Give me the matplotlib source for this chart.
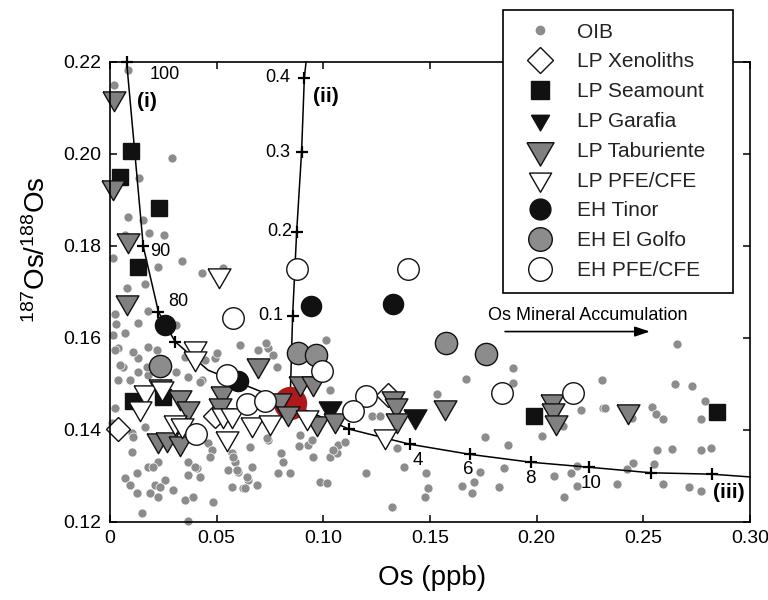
import matplotlib
matplotlib.use("Agg")
import matplotlib.pyplot as plt
from matplotlib.lines import Line2D

plt.rcParams['font.family'] = ['Liberation Sans', 'DejaVu Sans']
plt.rcParams['mathtext.fontset'] = 'custom'
plt.rcParams['mathtext.rm'] = 'Liberation Sans'
plt.rcParams['mathtext.it'] = 'Liberation Sans:italic'
plt.rcParams['mathtext.bf'] = 'Liberation Sans:bold'

# ---------------- data ----------------
oib_x = [0.0084, 0.0019, 0.0291, 0.0136, 0.0084, 0.0155, 0.0183, 0.0253, 0.0070, 0.0014,
         0.0225, 0.0338, 0.0431, 0.0530, 0.0164, 0.0080, 0.0178, 0.0023, 0.0028, 0.0131,
         0.0309, 0.0014, 0.0070, 0.0038, 0.0178, 0.0131, 0.0061, 0.0131, 0.0038, 0.0094,
         0.0178, 0.0352, 0.0366, 0.0431, 0.0492, 0.0741, 0.0694, 0.0731, 0.0609, 0.0764,
         0.1013, 0.1031, 0.0783, 0.0108, 0.0220, 0.0173, 0.0422, 0.0502, 0.0023, 0.0009,
         0.0103, 0.0164, 0.0108, 0.0103, 0.0225, 0.0178, 0.0127, 0.0070, 0.0094, 0.0127,
         0.0211, 0.0258, 0.0188, 0.0225, 0.0295, 0.0366, 0.0408, 0.0366, 0.0422, 0.0352,
         0.0389, 0.0483, 0.0150, 0.0366, 0.0459, 0.0478, 0.0572, 0.0586, 0.0553, 0.0600,
         0.0647, 0.0572, 0.0623, 0.0689, 0.0656, 0.0741, 0.0398, 0.0469, 0.0577, 0.0666,
         0.0736, 0.0811, 0.0891, 0.0928, 0.0952, 0.0984, 0.1031, 0.1064, 0.1069, 0.1102,
         0.0788, 0.0844, 0.0802, 0.0886, 0.0947, 0.1017, 0.1228, 0.1266, 0.1200, 0.1345,
         0.1378, 0.1481, 0.1491, 0.1477, 0.1322, 0.1669, 0.1533, 0.1889, 0.1889, 0.1758,
         0.1866, 0.2025, 0.2123, 0.2208, 0.2311, 0.2306, 0.1734, 0.1706, 0.1650, 0.1697,
         0.1823, 0.1847, 0.2081, 0.2161, 0.2189, 0.2189, 0.2128, 0.2658, 0.2648, 0.2728,
         0.2789, 0.2770, 0.2320, 0.2541, 0.2559, 0.2592, 0.2447, 0.2564, 0.2634, 0.2770,
         0.2817, 0.2452, 0.2423, 0.2550, 0.2377, 0.2592, 0.2714, 0.2770, 0.0309, 0.0023,
         0.0047, 0.0202, 0.0234, 0.0595, 0.0642, 0.0633, 0.1045, 0.0445]
oib_y = [0.2183, 0.2150, 0.1991, 0.1948, 0.1863, 0.1857, 0.1828, 0.1824, 0.1824, 0.1774,
         0.1754, 0.1767, 0.1741, 0.1752, 0.1717, 0.1709, 0.1659, 0.1652, 0.1630, 0.1633,
         0.1628, 0.1607, 0.1611, 0.1578, 0.1580, 0.1557, 0.1537, 0.1526, 0.1509, 0.1509,
         0.1520, 0.1559, 0.1515, 0.1509, 0.1557, 0.1578, 0.1574, 0.1589, 0.1585, 0.1563,
         0.1596, 0.1487, 0.1537, 0.1570, 0.1574, 0.1537, 0.1504, 0.1567, 0.1448, 0.1415,
         0.1393, 0.1407, 0.1385, 0.1352, 0.1330, 0.1320, 0.1307, 0.1296, 0.1280, 0.1263,
         0.1280, 0.1291, 0.1263, 0.1254, 0.1270, 0.1330, 0.1317, 0.1302, 0.1298, 0.1248,
         0.1254, 0.1243, 0.1220, 0.1202, 0.1372, 0.1357, 0.1350, 0.1330, 0.1313, 0.1309,
         0.1291, 0.1276, 0.1274, 0.1280, 0.1363, 0.1378, 0.1320, 0.1341, 0.1341, 0.1320,
         0.1383, 0.1330, 0.1389, 0.1367, 0.1341, 0.1287, 0.1341, 0.1350, 0.1367, 0.1374,
         0.1307, 0.1307, 0.1350, 0.1365, 0.1378, 0.1285, 0.1430, 0.1430, 0.1307, 0.1361,
         0.1320, 0.1307, 0.1274, 0.1254, 0.1233, 0.1511, 0.1478, 0.1535, 0.1502, 0.1385,
         0.1367, 0.1387, 0.1409, 0.1443, 0.1448, 0.1509, 0.1309, 0.1287, 0.1278, 0.1263,
         0.1276, 0.1317, 0.1300, 0.1307, 0.1322, 0.1278, 0.1254, 0.1587, 0.1500, 0.1496,
         0.1463, 0.1424, 0.1448, 0.1450, 0.1435, 0.1424, 0.1426, 0.1357, 0.1359, 0.1357,
         0.1361, 0.1328, 0.1315, 0.1326, 0.1283, 0.1283, 0.1276, 0.1267, 0.1526, 0.1574,
         0.1541, 0.1320, 0.1276, 0.1313, 0.1298, 0.1274, 0.1357, 0.1552]

xeno_x = [0.0039, 0.0492, 0.1305]
xeno_y = [0.1402, 0.1430, 0.1476]

seam_x = [0.0098, 0.0047, 0.0230, 0.0130, 0.0109, 0.0250, 0.1989, 0.2847]
seam_y = [0.2007, 0.1951, 0.1883, 0.1755, 0.1462, 0.1472, 0.1431, 0.1440]

gara_x = [0.1031, 0.1430]
gara_y = [0.1447, 0.1431]

tabu_x = [0.0020, 0.0016, 0.0083, 0.0081, 0.0695, 0.0234, 0.0328, 0.0367, 0.0227, 0.0266,
          0.0328, 0.0523, 0.0516, 0.0891, 0.0950, 0.0797, 0.0836, 0.0969, 0.1055, 0.1328,
          0.1340, 0.1344, 0.1570, 0.2070, 0.2078, 0.2089, 0.2430]
tabu_y = [0.2121, 0.1929, 0.1813, 0.1679, 0.1541, 0.1496, 0.1472, 0.1447, 0.1378, 0.1380,
          0.1371, 0.1480, 0.1454, 0.1502, 0.1502, 0.1465, 0.1436, 0.1415, 0.1422, 0.1469,
          0.1454, 0.1422, 0.1451, 0.1462, 0.1443, 0.1418, 0.1441]

lppfe_x = [0.0512, 0.0398, 0.0398, 0.0164, 0.0242, 0.0141, 0.0305, 0.0336, 0.0547, 0.0531,
           0.0570, 0.0664, 0.0750, 0.0922, 0.1289]
lppfe_y = [0.1737, 0.1578, 0.1556, 0.1483, 0.1491, 0.1447, 0.1418, 0.1411, 0.1382, 0.1433,
           0.1433, 0.1413, 0.1418, 0.1429, 0.1386]

tinor_x = [0.0258, 0.0602, 0.0941, 0.1325]
tinor_y = [0.1628, 0.1507, 0.1670, 0.1674]

golfo_x = [0.0234, 0.0883, 0.0966, 0.1575, 0.1761]
golfo_y = [0.1539, 0.1568, 0.1563, 0.1589, 0.1565]

ehpfe_x = [0.0875, 0.0578, 0.1398, 0.0992, 0.0547, 0.0641, 0.0727, 0.0402, 0.1200, 0.1141,
           0.1836, 0.2169]
ehpfe_y = [0.1749, 0.1643, 0.1749, 0.1529, 0.1520, 0.1457, 0.1464, 0.1391, 0.1474, 0.1441,
           0.1480, 0.1480]

end_x = [0.0844]
end_y = [0.1458]

# mixing curves
cur1_x = [0.0078, 0.0156, 0.0227, 0.0305, 0.0460, 0.0844]
cur1_y = [0.2200, 0.1799, 0.1657, 0.1592, 0.1530, 0.1458]
cur1_tick_x = [0.0078, 0.0156, 0.0227, 0.0305]
cur1_tick_y = [0.2200, 0.1799, 0.1657, 0.1592]
cur1_labels = ['100', '90', '80']

cur2_x = [0.0844, 0.0856, 0.0875, 0.0898, 0.0911, 0.0919]
cur2_y = [0.1458, 0.1648, 0.1831, 0.2004, 0.2166, 0.2200]
cur2_tick_x = [0.0856, 0.0875, 0.0898, 0.0911]
cur2_tick_y = [0.1648, 0.1831, 0.2004, 0.2166]
cur2_labels = ['0.1', '0.2', '0.3', '0.4']

cur3_x = [0.0844, 0.1120, 0.1406, 0.1688, 0.1972, 0.2247, 0.2535, 0.2820, 0.3000]
cur3_y = [0.1458, 0.1402, 0.1369, 0.1347, 0.1330, 0.1319, 0.1307, 0.1304, 0.1298]
cur3_tick_x = [0.1120, 0.1406, 0.1688, 0.1972, 0.2247, 0.2535, 0.2820]
cur3_tick_y = [0.1402, 0.1369, 0.1347, 0.1330, 0.1319, 0.1307, 0.1304]
cur3_labels = ['4', '6', '8', '10']

xticks = [0, 0.05, 0.10, 0.15, 0.20, 0.25, 0.30]
xticklabels = ['0', '0.05', '0.10', '0.15', '0.20', '0.25', '0.30']
yticks = [0.12, 0.14, 0.16, 0.18, 0.20, 0.22]
yticklabels = ['0.12', '0.14', '0.16', '0.18', '0.20', '0.22']

# ---------------- plot ----------------
fig = plt.figure(figsize=(7.68, 6.0), dpi=100)
ax = fig.add_axes([110/768, 1-522/600, 640/768, 460/600])

TRI = [(-1, 0.577), (1, 0.577), (0, -1.155), (-1, 0.577)]
GRAY_DOT = '#8c8c8c'
GRAY_SYM = '#808080'
K = '#111111'

ax.plot(oib_x, oib_y, 'o', ms=6.5, mfc=GRAY_DOT, mec='white', mew=0.5, zorder=2, clip_on=False)

ax.plot(end_x, end_y, 'o', ms=23, mfc='#b0191b', mec='#b0191b', zorder=3)

for cx, cy in [(cur1_x, cur1_y), (cur2_x, cur2_y), (cur3_x, cur3_y)]:
    ax.plot(cx, cy, '-', color='black', lw=1.1, zorder=2.5, clip_on=False)
for tx, ty in [(cur1_tick_x, cur1_tick_y), (cur2_tick_x, cur2_tick_y), (cur3_tick_x, cur3_tick_y)]:
    ax.plot(tx, ty, '+', color='black', ms=8, mew=1.6, zorder=2.6, clip_on=False)

sym = dict(ls='none', mew=1.0, zorder=4, clip_on=False)
ax.plot(xeno_x, xeno_y, marker='D', ms=12.5, mfc='white', mec=K, **sym)
ax.plot(seam_x, seam_y, marker='s', ms=12.2, mfc=K, mec=K, **sym)
ax.plot(gara_x, gara_y, marker=TRI, ms=19, mfc=K, mec=K, **sym)
ax.plot(tabu_x, tabu_y, marker=TRI, ms=19, mfc=GRAY_SYM, mec=K, **sym)
ax.plot(lppfe_x, lppfe_y, marker=TRI, ms=19, mfc='white', mec=K, **sym)
ax.plot(tinor_x, tinor_y, marker='o', ms=14.5, mfc=K, mec=K, **sym)
ax.plot(golfo_x, golfo_y, marker='o', ms=16, mfc=GRAY_DOT, mec=K, **sym)
ax.plot(ehpfe_x, ehpfe_y, marker='o', ms=15.5, mfc='white', mec=K, **sym)

# curve labels
fs_c = 13
ax.text(0.0188, 0.2172, cur1_labels[0], fontsize=fs_c, ha='left', va='center')
ax.text(0.0188, 0.1788, cur1_labels[1], fontsize=fs_c, ha='left', va='center')
ax.text(0.0273, 0.1679, cur1_labels[2], fontsize=fs_c, ha='left', va='center')
ax.text(0.0127, 0.2114, '(i)', fontsize=15, fontweight='bold', ha='left', va='center')
for lx, ly, lab in zip([0.0813, 0.0852, 0.0844, 0.0844], cur2_tick_y, cur2_labels):
    ax.text(lx, ly, lab, fontsize=fs_c, ha='right', va='center')
ax.text(0.0950, 0.2125, '(ii)', fontsize=15, fontweight='bold', ha='left', va='center')
for lx, ly, lab in zip([0.1445, 0.1680, 0.1969, 0.2253], [0.1333, 0.1315, 0.1295, 0.1284], cur3_labels):
    ax.text(lx, ly, lab, fontsize=13.5, ha='center', va='center')
ax.text(0.2825, 0.1264, '(iii)', fontsize=15, fontweight='bold', ha='left', va='center')

ax.text(0.1772, 0.1650, 'Os Mineral Accumulation', fontsize=13, ha='left', va='center')
ax.annotate('', xy=(0.2531, 0.1614), xytext=(0.1852, 0.1614),
            arrowprops=dict(arrowstyle='-|>,head_length=0.9,head_width=0.3', color='black', lw=1.2,
                            shrinkA=0, shrinkB=0))

ax.set_xlim(0, 0.30)
ax.set_ylim(0.12, 0.22)
ax.set_xticks(xticks)
ax.set_xticklabels(xticklabels)
ax.set_yticks(yticks)
ax.set_yticklabels(yticklabels)
ax.tick_params(direction='in', length=5, width=1.1, top=True, right=True, labelsize=14, pad=6)
for s in ax.spines.values():
    s.set_linewidth(1.2)
    s.set_zorder(5)

fig.text(432/768, 1-578/600, 'Os (ppb)', fontsize=20, ha='center', va='center')
fig.text(37/768, 1-250/600, r'$\mathregular{^{187}}$Os/$\mathregular{^{188}}$Os', fontsize=20,
         rotation=90, ha='center', va='center')

# legend
handles = [
    Line2D([], [], ls='none', marker='o', ms=6, mfc=GRAY_DOT, mec=GRAY_DOT),
    Line2D([], [], ls='none', marker='D', ms=13.5, mfc='white', mec=K, mew=1.0),
    Line2D([], [], ls='none', marker='s', ms=12.5, mfc=K, mec=K),
    Line2D([], [], ls='none', marker=TRI, ms=15, mfc=K, mec=K),
    Line2D([], [], ls='none', marker=TRI, ms=22.5, mfc=GRAY_SYM, mec=K, mew=1.0),
    Line2D([], [], ls='none', marker=TRI, ms=18.5, mfc='white', mec=K, mew=1.0),
    Line2D([], [], ls='none', marker='o', ms=15, mfc=K, mec=K),
    Line2D([], [], ls='none', marker='o', ms=17, mfc=GRAY_DOT, mec=K, mew=1.0),
    Line2D([], [], ls='none', marker='o', ms=17, mfc='white', mec=K, mew=1.0),
]
labels = ['OIB', 'LP Xenoliths', 'LP Seamount', 'LP Garafia', 'LP Taburiente',
          'LP PFE/CFE', 'EH Tinor', 'EH El Golfo', 'EH PFE/CFE']
leg = fig.legend(handles, labels, loc='upper left',
                 bbox_to_anchor=(503/768, 1-297/600, 230/768, 287/600), mode='expand',
                 borderaxespad=0, fontsize=15, frameon=True, fancybox=False,
                 edgecolor='black', framealpha=1, borderpad=0.6, labelspacing=0.52,
                 handlelength=2.35, handletextpad=0.6, numpoints=1)
leg.get_frame().set_linewidth(1.2)
for t in leg.get_texts():
    t.set_color('#222222')

fig.savefig('out.png', dpi=100)
